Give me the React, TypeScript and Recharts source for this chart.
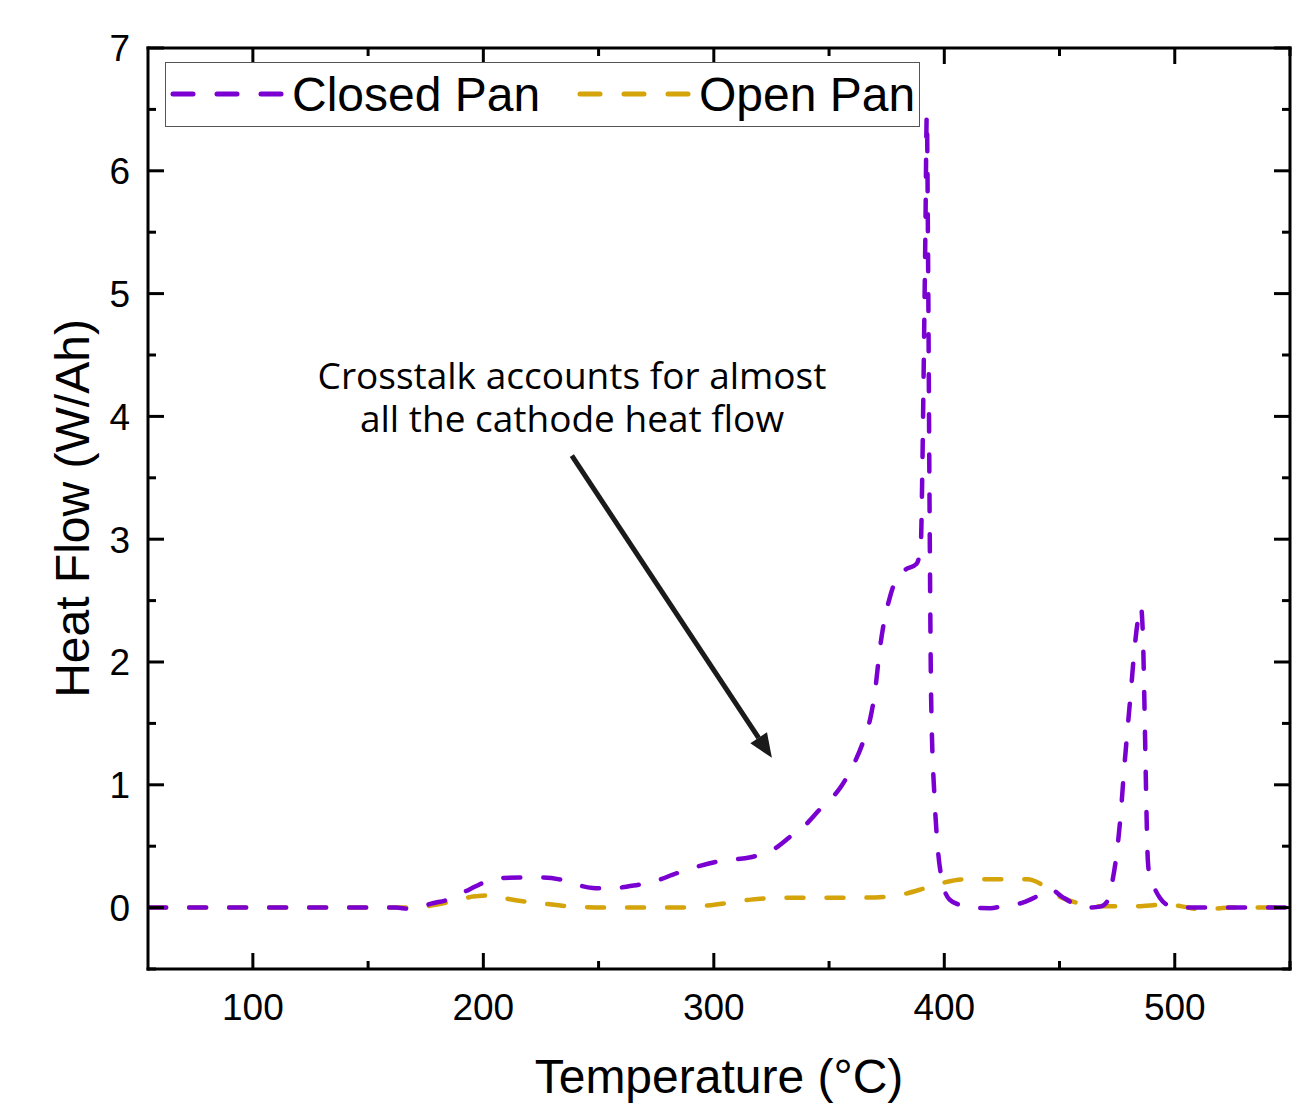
import { LineChart, Line, XAxis, YAxis, ReferenceLine } from 'recharts'

// Closed pan DSC trace
const closedT = [
  55, 100, 150, 162, 168, 172, 177, 185.5, 192, 198.5, 202, 207, 216, 226, 233, 238, 247.5, 255,
  262, 273.5, 284, 294, 303, 316, 325.5, 334, 339, 346, 355, 360, 365.5, 368, 370, 372, 374, 376,
  379, 383, 388, 389.8, 390.5, 391, 391.8, 392.4, 393, 393.6, 394.3, 395.8, 397.1, 399.3, 402.3,
  407, 411, 420, 425, 434, 440, 446, 451, 457, 463, 468, 471, 473, 475, 476.5, 478, 479.5, 481,
  482.5, 484, 485.3, 486.2, 486.8, 487.3, 487.8, 488.3, 489, 490.5, 493.5, 497, 502, 550,
]
const closedV = [
  0, 0, 0, 0, -0.01, 0, 0.03, 0.07, 0.13, 0.19, 0.22, 0.24, 0.245, 0.245, 0.23, 0.2, 0.16, 0.155,
  0.17, 0.21, 0.28, 0.34, 0.38, 0.41, 0.47, 0.59, 0.66, 0.8, 0.98, 1.14, 1.39, 1.55, 1.77, 2.1, 2.34, 2.5,
  2.67, 2.75, 2.8, 2.95, 3.6, 4.3, 5.5, 6.45, 5.2, 3.3, 1.7, 0.88, 0.5, 0.2, 0.065,
  0.02, 0, -0.005, 0.01, 0.04, 0.09, 0.15, 0.09, 0.025, 0, 0.01, 0.06, 0.22, 0.47, 0.75, 1.12, 1.45, 1.77,
  2.1, 2.34, 2.45, 2.2, 1.7, 1.2, 0.72, 0.39, 0.27, 0.19, 0.08, 0.02, 0, 0,
]

// Open pan DSC trace
const openT = [
  55, 100, 150, 170, 181, 190, 195.5, 205, 211, 223, 237.5, 253, 269, 285, 301, 316, 330, 346, 360,
  376, 392, 399, 408, 420, 436, 443, 449, 457.5, 466, 482, 496.5, 503, 512, 525, 542, 550,
]
const openV = [
  0, 0, 0, 0, 0.03, 0.065, 0.09, 0.1, 0.07, 0.04, 0.01, 0, 0, 0, 0.025, 0.065, 0.08, 0.08, 0.08,
  0.09, 0.16, 0.2, 0.23, 0.23, 0.23, 0.18, 0.1, 0.04, 0.01, 0.01, 0.025, 0.01, -0.015, 0, 0, 0,
]

const xTicks = [100, 150, 200, 250, 300, 350, 400, 450, 500, 550]
const yTicks = [-0.5, 0, 0.5, 1, 1.5, 2, 2.5, 3, 3.5, 4, 4.5, 5, 5.5, 6, 6.5, 7]

const seriesNames = ['Closed Pan', 'Open Pan']
const seriesColors = ['#7a00d2', '#d4a40a']

const annotationLines = ['Crosstalk accounts for almost', 'all the cathode heat flow']
// arrow tail / head in data coordinates
const arrowFrom = { x: 238.4, y: 3.68 }
const arrowTo = { x: 325.2, y: 1.22 }

const closedData = closedT.map((t, i) => ({ t, v: closedV[i] }))
const openData = openT.map((t, i) => ({ t, v: openV[i] }))

const AXIS_FONT = '"Liberation Sans", Arial, sans-serif'
const DASH = '17 23'
const FRAME = { stroke: '#000', strokeWidth: 3, strokeLinecap: 'square' as const }

// eslint-disable-next-line @typescript-eslint/no-explicit-any
function BottomTick({ x, y, payload }: any) {
  const major = payload.value % 100 === 0
  return (
    <g>
      <line x1={x} y1={y} x2={x} y2={y - (major ? 16 : 8)} stroke="#000" strokeWidth={3} />
      {major && (
        <text x={x} y={y + 51} textAnchor="middle" fontSize={37} fontFamily={AXIS_FONT} fill="#000">
          {payload.value}
        </text>
      )}
    </g>
  )
}

// eslint-disable-next-line @typescript-eslint/no-explicit-any
function TopTick({ x, y, payload }: any) {
  const major = payload.value % 100 === 0
  return <line x1={x} y1={y} x2={x} y2={y + (major ? 16 : 8)} stroke="#000" strokeWidth={3} />
}

// eslint-disable-next-line @typescript-eslint/no-explicit-any
function LeftTick({ x, y, payload }: any) {
  const major = Number.isInteger(payload.value)
  return (
    <g>
      <line x1={x} y1={y} x2={x + (major ? 16 : 8)} y2={y} stroke="#000" strokeWidth={3} />
      {major && (
        <text x={x - 18} y={y} dy="0.36em" textAnchor="end" fontSize={37} fontFamily={AXIS_FONT} fill="#000">
          {payload.value}
        </text>
      )}
    </g>
  )
}

// eslint-disable-next-line @typescript-eslint/no-explicit-any
function RightTick({ x, y, payload }: any) {
  const major = Number.isInteger(payload.value)
  return <line x1={x} y1={y} x2={x - (major ? 16 : 8)} y2={y} stroke="#000" strokeWidth={3} />
}

// eslint-disable-next-line @typescript-eslint/no-explicit-any
function XTitle({ viewBox }: any) {
  if (!viewBox) return null
  return (
    <text x={viewBox.x + viewBox.width / 2} y={viewBox.y + 124} textAnchor="middle" fontSize={48} fontFamily={AXIS_FONT} fill="#000">
      Temperature (°C)
    </text>
  )
}

// eslint-disable-next-line @typescript-eslint/no-explicit-any
function YTitle({ viewBox }: any) {
  if (!viewBox) return null
  const cx = viewBox.x + 64
  const cy = viewBox.y + viewBox.height / 2
  return (
    <text x={cx} y={cy} dy="0.36em" textAnchor="middle" transform={`rotate(-90 ${cx} ${cy})`} fontSize={48} fontFamily={AXIS_FONT} fill="#000">
      Heat Flow (W/Ah)
    </text>
  )
}

// eslint-disable-next-line @typescript-eslint/no-explicit-any
function Arrow({ x1, y1, x2, y2 }: any) {
  const dx = x2 - x1
  const dy = y2 - y1
  const len = Math.sqrt(dx * dx + dy * dy)
  const ux = dx / len
  const uy = dy / len
  const headLen = 24
  const headW = 10
  const bx = x2 - ux * headLen
  const by = y2 - uy * headLen
  return (
    <g>
      <line x1={x1} y1={y1} x2={bx} y2={by} stroke="#1a1a1a" strokeWidth={5} />
      <polygon
        points={`${x2},${y2} ${bx - uy * headW},${by + ux * headW} ${bx + uy * headW},${by - ux * headW}`}
        fill="#1a1a1a"
      />
    </g>
  )
}

function LegendBox() {
  return (
    <div
      style={{
        position: 'absolute',
        left: 157,
        top: 54,
        width: 755,
        height: 65,
        boxSizing: 'border-box',
        border: '1.5px solid #555',
        background: '#fff',
        fontFamily: AXIS_FONT,
        fontSize: 48,
        color: '#000',
      }}
    >
      {seriesNames.map((name, i) => (
        <div
          key={name}
          style={{ position: 'absolute', left: i === 0 ? 4 : 411, top: 0, height: 62, display: 'flex', alignItems: 'center' }}
        >
          <svg width={114} height={10} style={{ marginRight: 8 }}>
            <line x1={3} y1={5} x2={111} y2={5} stroke={seriesColors[i]} strokeWidth={5} strokeDasharray="20 24" strokeLinecap="round" />
          </svg>
          <span>{name}</span>
        </div>
      ))}
    </div>
  )
}

export default function App() {
  return (
    <div style={{ position: 'relative', width: 1300, height: 1100, background: '#fff' }}>
      <LineChart width={1300} height={1100} margin={{ top: 39, right: 17, left: 0, bottom: 0 }}>
        <XAxis
          xAxisId={0}
          dataKey="t"
          type="number"
          domain={[54.5, 550]}
          ticks={xTicks}
          interval={0}
          allowDataOverflow
          height={139}
          tickSize={0}
          tickMargin={0}
          tick={<BottomTick />}
          axisLine={FRAME}
          label={<XTitle />}
        />
        <XAxis
          xAxisId="top"
          orientation="top"
          dataKey="t"
          type="number"
          domain={[54.5, 550]}
          ticks={xTicks}
          interval={0}
          allowDataOverflow
          height={1}
          tickSize={0}
          tickMargin={0}
          tick={<TopTick />}
          axisLine={FRAME}
        />
        <YAxis
          yAxisId={0}
          type="number"
          domain={[-0.5, 7]}
          ticks={yTicks}
          interval={0}
          allowDataOverflow
          width={140}
          tickSize={0}
          tickMargin={0}
          tick={<LeftTick />}
          axisLine={FRAME}
          label={<YTitle />}
        />
        <YAxis
          yAxisId="right"
          orientation="right"
          type="number"
          domain={[-0.5, 7]}
          ticks={yTicks}
          interval={0}
          allowDataOverflow
          width={1}
          tickSize={0}
          tickMargin={0}
          tick={<RightTick />}
          axisLine={FRAME}
        />
        <ReferenceLine
          segment={[arrowFrom, arrowTo]}
          shape={(p: any) => <Arrow {...p} />}
        />
        <Line
          data={openData}
          dataKey="v"
          name={seriesNames[1]}
          type="monotone"
          stroke={seriesColors[1]}
          strokeWidth={4.5}
          strokeDasharray={DASH}
          strokeLinecap="round"
          dot={false}
          activeDot={false}
          isAnimationActive={false}
        />
        <Line
          data={closedData}
          dataKey="v"
          name={seriesNames[0]}
          type="monotone"
          stroke={seriesColors[0]}
          strokeWidth={4.5}
          strokeDasharray={DASH}
          strokeLinecap="round"
          dot={false}
          activeDot={false}
          isAnimationActive={false}
        />
      </LineChart>
      <LegendBox />
      {annotationLines.map((l, i) => (
        <div
          key={l}
          style={{
            position: 'absolute',
            left: 264,
            top: 350 + i * 43,
            width: 600,
            textAlign: 'center',
            fontFamily: '"Open Sans", sans-serif',
            fontSize: 37,
            lineHeight: '34px',
            color: '#000',
          }}
        >
          {l}
        </div>
      ))}
    </div>
  )
}
